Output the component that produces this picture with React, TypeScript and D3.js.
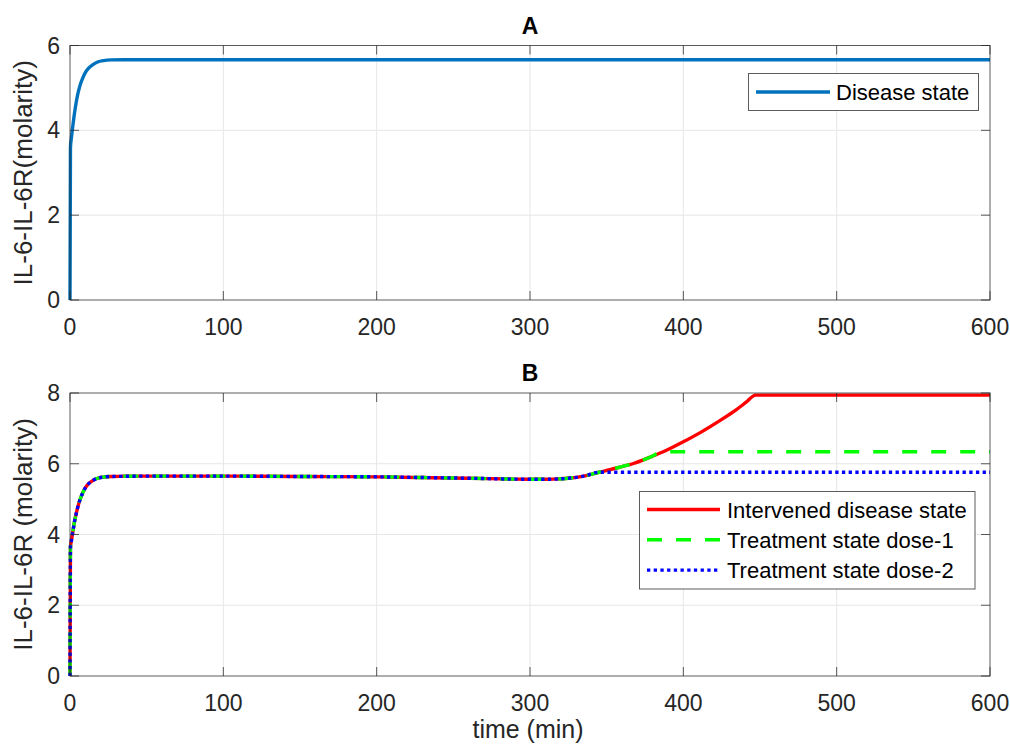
import React from "react";
import * as d3 from "d3";

const xTicks = [0, 100, 200, 300, 400, 500, 600];
const yTicksA = [0, 2, 4, 6];
const yTicksB = [0, 2, 4, 6, 8];

// Panel A: disease state
const timeA = [0, 0.3, 1, 2, 3, 4, 5, 6, 7, 8.5, 10, 12, 15, 18, 22, 27, 35, 50, 100, 200, 300, 400, 500, 600];
const diseaseA = [0, 3.6, 3.85, 4.15, 4.42, 4.65, 4.84, 4.99, 5.11, 5.25, 5.36, 5.46, 5.55, 5.61, 5.645, 5.66, 5.665, 5.665, 5.665, 5.665, 5.665, 5.665, 5.665, 5.665];

// Panel B: shared portion of all three curves
const baseTime = [0, 0.3, 1, 2, 3, 4, 5, 6.5, 8, 10, 12, 15, 18, 22, 27, 35, 50, 100, 150, 200, 230, 260, 290, 305, 315, 325, 335, 345];
const baseValue = [0, 3.65, 3.85, 4.12, 4.38, 4.58, 4.76, 4.98, 5.15, 5.32, 5.43, 5.53, 5.59, 5.625, 5.64, 5.645, 5.65, 5.65, 5.64, 5.63, 5.61, 5.59, 5.565, 5.56, 5.565, 5.59, 5.65, 5.76];

const redTailTime = [352, 360, 367, 378, 389, 400, 411, 422, 433, 441, 447, 600];
const redTailValue = [5.83, 5.92, 6.0, 6.18, 6.38, 6.62, 6.88, 7.17, 7.48, 7.74, 7.94, 7.94];
const greenTailTime = [352, 360, 367, 378, 386, 391, 600];
const greenTailValue = [5.83, 5.92, 6.0, 6.18, 6.33, 6.34, 6.34];
const blueTailTime = [600];
const blueTailValue = [5.76];

const seriesB = [
  { name: "Intervened disease state", color: "#ff0000", dash: "none", t: redTailTime, v: redTailValue },
  { name: "Treatment state dose-1", color: "#00ff00", dash: "15 14", t: greenTailTime, v: greenTailValue },
  { name: "Treatment state dose-2", color: "#0000ff", dash: "3.3 3.4", t: blueTailTime, v: blueTailValue },
];

const FONT = "'Liberation Sans', Arial, Helvetica, sans-serif";
const AXIS = "#262626";
const GRID = "#e6e6e6";

const X0 = 70, X1 = 990;
const x = d3.scaleLinear().domain([0, 600]).range([X0, X1]);

type P = [number, number];
const zip = (t: number[], v: number[]): P[] => t.map((ti, i) => [ti, v[i]]);

function Panel(props: {
  top: number; bottom: number; yMax: number; yTicks: number[]; title: string; ylabel: string; children: (y: d3.ScaleLinear<number, number>) => React.ReactNode;
}) {
  const { top, bottom, yMax, yTicks, title, ylabel } = props;
  const y = d3.scaleLinear().domain([0, yMax]).range([bottom, top]);
  const tl = 9;
  return (
    <g>
      {xTicks.slice(1, -1).map((t) => (
        <line key={"gx" + t} x1={x(t)} x2={x(t)} y1={top} y2={bottom} stroke={GRID} strokeWidth={1} />
      ))}
      {yTicks.slice(1, -1).map((t) => (
        <line key={"gy" + t} x1={X0} x2={X1} y1={y(t)} y2={y(t)} stroke={GRID} strokeWidth={1} />
      ))}
      {props.children(y)}
      <rect x={X0} y={top} width={X1 - X0} height={bottom - top} fill="none" stroke={AXIS} strokeOpacity={0.75} strokeWidth={1} />
      {xTicks.map((t) => (
        <g key={"tx" + t}>
          <line x1={x(t)} x2={x(t)} y1={bottom} y2={bottom - tl} stroke={AXIS} strokeOpacity={0.75} />
          <line x1={x(t)} x2={x(t)} y1={top} y2={top + tl} stroke={AXIS} strokeOpacity={0.75} />
          <text x={x(t)} y={bottom + 35} textAnchor="middle" fontSize={23} fill={AXIS} fontFamily={FONT}>{t}</text>
        </g>
      ))}
      {yTicks.map((t) => (
        <g key={"ty" + t}>
          <line x1={X0} x2={X0 + tl} y1={y(t)} y2={y(t)} stroke={AXIS} strokeOpacity={0.75} />
          <line x1={X1} x2={X1 - tl} y1={y(t)} y2={y(t)} stroke={AXIS} strokeOpacity={0.75} />
          <text x={X0 - 10} y={y(t) + 8} textAnchor="end" fontSize={23} fill={AXIS} fontFamily={FONT}>{t}</text>
        </g>
      ))}
      <text x={(X0 + X1) / 2} y={top - 12} textAnchor="middle" fontSize={23} fontWeight="bold" fill="#000" fontFamily={FONT}>{title}</text>
      <text transform={`translate(32,${(top + bottom) / 2}) rotate(-90)`} textAnchor="middle" fontSize={26} fill={AXIS} fontFamily={FONT}>{ylabel}</text>
    </g>
  );
}

export default function App() {
  const lineGen = (y: d3.ScaleLinear<number, number>) =>
    d3.line<P>().x((d) => x(d[0])).y((d) => y(d[1])).curve(d3.curveMonotoneX);
  const dataA = zip(timeA, diseaseA);
  const base = zip(baseTime, baseValue);

  return (
    <svg width={1010} height={751} style={{ position: "absolute", left: 0, top: 0, background: "#fff" }}>
      <rect width={1010} height={751} fill="#fff" />
      <Panel top={45.5} bottom={300} yMax={6} yTicks={yTicksA} title="A" ylabel="IL-6-IL-6R(molarity)">
        {(y) => (
          <g>
            <path d={lineGen(y)(dataA) || ""} fill="none" stroke="#0072bd" strokeWidth={3.4} />
            <rect x={748.5} y={73.5} width={230} height={37} fill="#fff" stroke={AXIS} strokeOpacity={0.75} />
            <line x1={756} x2={830} y1={92} y2={92} stroke="#0072bd" strokeWidth={3.4} />
            <text x={836} y={100} fontSize={22} fill="#000" fontFamily={FONT}>Disease state</text>
          </g>
        )}
      </Panel>
      <Panel top={393} bottom={676} yMax={8} yTicks={yTicksB} title="B" ylabel="IL-6-IL-6R (molarity)">
        {(y) => (
          <g>
            {seriesB.map((s) => (
              <path key={s.name} d={lineGen(y)(base.concat(zip(s.t, s.v))) || ""} fill="none" stroke={s.color} strokeWidth={3.4} strokeDasharray={s.dash} />
            ))}
            <rect x={639.5} y={491.5} width={335.5} height={97.5} fill="#fff" stroke={AXIS} strokeOpacity={0.75} />
            {seriesB.map((s, i) => (
              <g key={"lg" + i}>
                <line x1={647} x2={720} y1={509.5 + i * 30.3} y2={509.5 + i * 30.3} stroke={s.color} strokeWidth={3.4} strokeDasharray={s.dash} />
                <text x={727} y={517.5 + i * 30.3} fontSize={22} fill="#000" fontFamily={FONT}>{s.name}</text>
              </g>
            ))}
          </g>
        )}
      </Panel>
      <text x={528} y={738} textAnchor="middle" fontSize={25} fill={AXIS} fontFamily={FONT}>time (min)</text>
    </svg>
  );
}
